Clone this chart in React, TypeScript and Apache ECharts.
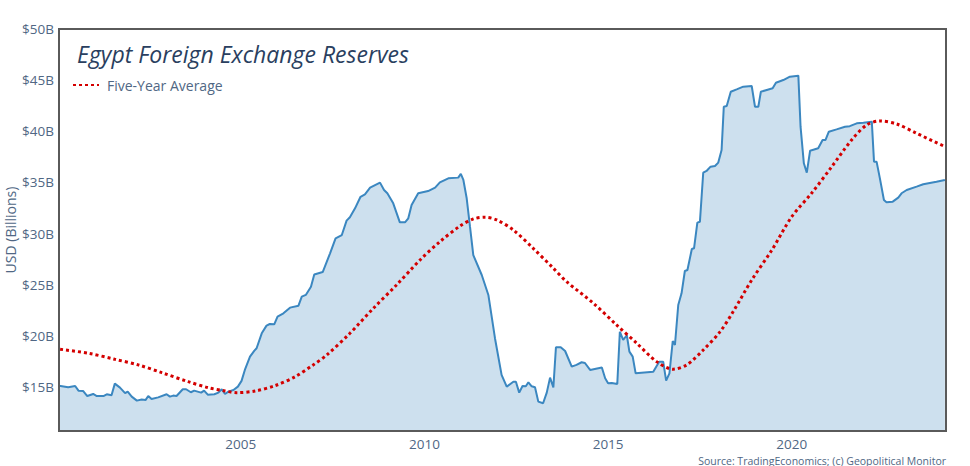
import React, { useEffect, useRef } from "react";
import * as echarts from "echarts";

// Egypt foreign exchange reserves (USD billions)
const reserveYears = [
  2000.05, 2000.30, 2000.49, 2000.58, 2000.71, 2000.82, 2000.98, 2001.08, 2001.26, 2001.35,
  2001.48, 2001.57, 2001.71, 2001.85, 2001.92, 2002.03, 2002.17, 2002.30, 2002.41, 2002.48,
  2002.57, 2002.75, 2002.98, 2003.07, 2003.16, 2003.25, 2003.42, 2003.51, 2003.64, 2003.73,
  2003.92, 2004.00, 2004.10, 2004.28, 2004.39, 2004.48, 2004.57, 2004.66, 2004.80, 2004.92,
  2005.02, 2005.11, 2005.25, 2005.37, 2005.43, 2005.57, 2005.70, 2005.79, 2005.91, 2006.00,
  2006.16, 2006.34, 2006.57, 2006.66, 2006.77, 2006.91, 2007.00, 2007.23, 2007.43, 2007.58,
  2007.75, 2007.88, 2007.97, 2008.11, 2008.26, 2008.38, 2008.52, 2008.79, 2008.90, 2008.99,
  2009.15, 2009.33, 2009.47, 2009.56, 2009.65, 2009.83, 2010.10, 2010.29, 2010.42, 2010.65,
  2010.92, 2010.99, 2011.06, 2011.15, 2011.24, 2011.33, 2011.56, 2011.74, 2011.92, 2012.10,
  2012.24, 2012.42, 2012.49, 2012.58, 2012.67, 2012.76, 2012.83, 2012.92, 2013.01, 2013.10,
  2013.23, 2013.33, 2013.42, 2013.51, 2013.58, 2013.71, 2013.83, 2014.01, 2014.14, 2014.28,
  2014.37, 2014.51, 2014.83, 2014.92, 2015.00, 2015.10, 2015.25, 2015.32, 2015.41, 2015.51,
  2015.58, 2015.67, 2015.75, 2016.23, 2016.39, 2016.50, 2016.58, 2016.67, 2016.76, 2016.82,
  2016.91, 2017.00, 2017.09, 2017.16, 2017.28, 2017.34, 2017.43, 2017.50, 2017.59, 2017.68,
  2017.79, 2017.91, 2018.00, 2018.09, 2018.15, 2018.23, 2018.34, 2018.50, 2018.68, 2018.91,
  2019.00, 2019.09, 2019.16, 2019.32, 2019.48, 2019.57, 2019.77, 2019.95, 2020.18, 2020.24,
  2020.33, 2020.41, 2020.50, 2020.72, 2020.84, 2020.92, 2021.01, 2021.22, 2021.45, 2021.58,
  2021.77, 2021.95, 2022.18, 2022.24, 2022.31, 2022.40, 2022.51, 2022.58, 2022.75, 2022.90,
  2022.99, 2023.13, 2023.40, 2023.58, 2023.76, 2023.94, 2024.17,
];
const reserveValues = [
  15.13, 14.97, 15.10, 14.64, 14.60, 14.12, 14.32, 14.12, 14.12, 14.29,
  14.20, 15.33, 14.94, 14.40, 14.55, 14.06, 13.67, 13.77, 13.74, 14.12,
  13.83, 13.99, 14.29, 14.06, 14.16, 14.12, 14.78, 14.78, 14.49, 14.65,
  14.45, 14.65, 14.25, 14.29, 14.45, 14.78, 14.32, 14.55, 14.71, 15.04,
  15.60, 16.67, 17.97, 18.56, 18.79, 20.25, 21.00, 21.16, 21.13, 21.88,
  22.20, 22.76, 22.95, 23.83, 24.00, 24.81, 26.00, 26.24, 28.07, 29.54,
  29.86, 31.27, 31.60, 32.47, 33.60, 33.84, 34.49, 34.98, 34.26, 33.94,
  32.96, 31.10, 31.10, 31.49, 32.80, 33.94, 34.16, 34.49, 35.00, 35.40,
  35.47, 35.83, 35.24, 33.45, 30.67, 27.90, 25.95, 24.00, 19.77, 16.18,
  15.04, 15.52, 15.52, 14.45, 15.10, 15.07, 15.46, 15.07, 14.97, 13.57,
  13.41, 14.45, 15.92, 14.97, 18.89, 18.89, 18.52, 16.99, 17.16, 17.42,
  17.35, 16.67, 16.90, 15.85, 15.37, 15.40, 15.30, 20.41, 19.60, 20.06,
  18.46, 17.97, 16.34, 16.50, 17.48, 17.48, 15.62, 16.34, 19.50, 19.11,
  23.02, 24.16, 26.34, 26.44, 28.49, 28.56, 31.07, 31.16, 35.95, 36.12,
  36.54, 36.61, 36.94, 38.17, 42.40, 42.47, 43.87, 44.10, 44.36, 44.43,
  42.40, 42.40, 43.87, 44.04, 44.20, 44.75, 45.01, 45.34, 45.44, 40.45,
  36.87, 35.95, 38.10, 38.34, 39.15, 39.15, 39.96, 40.19, 40.45, 40.50,
  40.78, 40.84, 40.94, 37.03, 37.03, 35.40, 33.28, 33.06, 33.12, 33.51,
  33.94, 34.26, 34.59, 34.82, 34.95, 35.07, 35.24,
];

// Five-year average (USD billions)
const averageYears = [
  2000.08, 2000.85, 2001.57, 2002.21, 2002.85, 2003.57, 2004.11, 2004.57, 2004.89, 2005.39,
  2005.93, 2006.48, 2006.97, 2007.34, 2007.97, 2008.61, 2009.24, 2009.88, 2010.42, 2010.97,
  2011.33, 2011.65, 2011.97, 2012.42, 2012.96, 2013.51, 2013.87, 2014.60, 2015.23, 2015.78,
  2016.32, 2016.77, 2017.14, 2017.59, 2018.05, 2018.41, 2018.91, 2019.46, 2020.00, 2020.54,
  2021.09, 2021.63, 2022.04, 2022.40, 2022.86, 2023.40, 2024.17,
];
const averageValues = [
  18.69, 18.30, 17.71, 17.16, 16.40, 15.52, 14.94, 14.61, 14.45, 14.61,
  15.13, 16.01, 17.16, 18.13, 20.25, 22.70, 24.98, 27.42, 29.21, 30.74,
  31.43, 31.60, 31.33, 30.35, 28.56, 26.61, 25.30, 23.19, 21.07, 19.28,
  17.48, 16.74, 17.16, 18.62, 20.41, 22.40, 25.46, 28.40, 31.65, 33.94,
  36.54, 39.15, 40.62, 41.01, 40.71, 39.80, 38.50,
];

const yTickValues = [15, 20, 25, 30, 35, 40, 45, 50];
const xTickValues = [2005, 2010, 2015, 2020];

const TITLE = "Egypt Foreign Exchange Reserves";
const SOURCE = "Source: TradingEconomics; (c) Geopolitical Monitor";

export default function App() {
  const ref = useRef<HTMLDivElement>(null);

  useEffect(() => {
    if (!ref.current) return;
    const chart = echarts.init(ref.current, undefined, { renderer: "svg" });
    const labelColor = "#506784";
    const frame = "#5a5a5a";
    chart.setOption({
      animation: false,
      textStyle: { fontFamily: "Open Sans" },
      title: {
        text: TITLE,
        left: 77,
        top: 42,
        padding: 0,
        textStyle: {
          fontFamily: "Open Sans",
          fontStyle: "italic",
          fontWeight: "normal",
          fontSize: 23,
          color: "#2a3f5f",
        },
      },
      legend: {
        data: ["Five-Year Average"],
        left: 72,
        top: 78,
        padding: 0,
        itemWidth: 26,
        itemHeight: 14,
        itemStyle: { opacity: 0 },
        textStyle: { fontSize: 14, color: labelColor, padding: [0, 0, 0, 3] },
      },
      grid: {
        left: 59,
        right: 24,
        top: 29,
        bottom: 35,
        outerBoundsMode: "none",
        containLabel: false,
        show: true,
        borderColor: frame,
        borderWidth: 2,
        backgroundColor: "transparent",
      },
      xAxis: {
        type: "value",
        min: 2000.05,
        max: 2024.2,
        z: 10,
        axisLine: { show: true, lineStyle: { color: frame, width: 2 } },
        axisTick: { show: false },
        splitLine: { show: false },
        axisLabel: {
          customValues: xTickValues,
          color: labelColor,
          fontSize: 13.5,
          margin: 6,
          formatter: (v: number) => String(Math.round(v)),
        },
      },
      yAxis: {
        type: "value",
        min: 10.7,
        max: 50,
        z: 10,
        name: "USD (Billions)",
        nameLocation: "middle",
        nameGap: 42,
        nameMoveOverlap: false,
        nameTextStyle: { fontSize: 14, color: labelColor },
        axisLine: { show: true, lineStyle: { color: frame, width: 2 } },
        axisTick: { show: false },
        splitLine: { show: false },
        axisLabel: {
          customValues: yTickValues,
          color: labelColor,
          fontSize: 13.5,
          margin: 5,
          formatter: (v: number) => `$${v}B`,
        },
      },
      series: [
        {
          name: "Reserves",
          type: "line",
          data: reserveYears.map((y, i) => [y, reserveValues[i]]),
          symbol: "none",
          lineStyle: { color: "#3b87c0", width: 2 },
          itemStyle: { color: "#3b87c0" },
          areaStyle: { color: "#cde0ee", opacity: 1, origin: "start" },
          z: 2,
        },
        {
          name: "Five-Year Average",
          type: "line",
          data: averageYears.map((y, i) => [y, averageValues[i]]),
          symbol: "none",
          smooth: 0.3,
          lineStyle: { color: "#d40000", width: 3, type: [3, 3] },
          itemStyle: { color: "#d40000" },
          z: 3,
        },
      ],
      graphic: [
        {
          type: "text",
          right: 24,
          top: 455,
          style: {
            text: SOURCE,
            fill: labelColor,
            fontSize: 10.5,
            fontFamily: "Open Sans",
          },
        },
      ],
    });
    return () => chart.dispose();
  }, []);

  return <div ref={ref} style={{ width: 970, height: 466, position: "absolute", left: 0, top: 0 }} />;
}
